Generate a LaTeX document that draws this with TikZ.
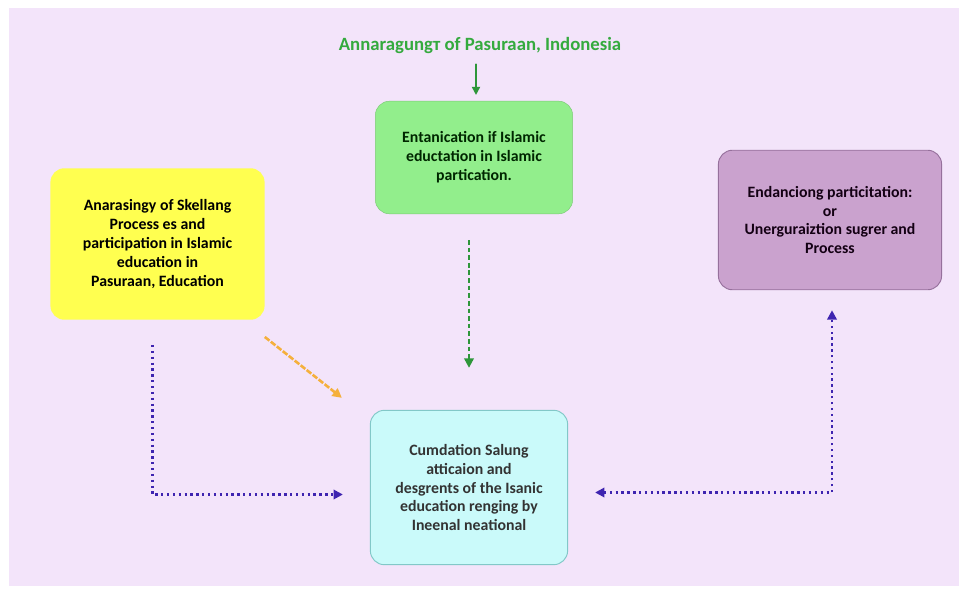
\documentclass[tikz,border=0pt]{standalone}
\usepackage{fontspec}
\setmainfont{Carlito}
\usetikzlibrary{arrows.meta,calc}

\definecolor{bglilac}{RGB}{243,228,250}
\definecolor{titlegreen}{RGB}{52,170,62}
\definecolor{arrowgreen}{RGB}{46,150,58}
\definecolor{boxgreen}{RGB}{146,238,140}
\definecolor{boxyellow}{RGB}{255,255,80}
\definecolor{boxmauve}{RGB}{202,162,206}
\definecolor{edgemauve}{RGB}{150,112,156}
\definecolor{boxcyan}{RGB}{202,250,250}
\definecolor{edgecyan}{RGB}{130,200,200}
\definecolor{arroworange}{RGB}{245,176,60}
\definecolor{arrowviolet}{RGB}{62,36,176}

\begin{document}
\begin{tikzpicture}[x=0.03cm,y=-0.03cm,line cap=round,line join=round,
  box/.style={rounded corners=12pt,align=center,inner sep=0pt,
    font=\bfseries\fontsize{13.5}{16.2}\selectfont},
  dots/.style={arrowviolet,line width=2pt,line cap=butt,dash pattern=on 2pt off 3pt},
  >={Triangle[length=8pt,width=8pt]}]
  % 背景
  \useasboundingbox (0,0) rectangle (967,594);
  \fill[white] (0,0) rectangle (967,594);
  \fill[bglilac] (9,8) rectangle (959,586);
  % 标题与四个方框
  \node[font=\bfseries\fontsize{16}{19}\selectfont,text=titlegreen] (title) at (480,46) {Annaragungт of Pasuraan, Indonesia};
  \node[box,fill=boxgreen,draw=boxgreen!85!black,line width=0.4pt,minimum width=168.4pt,minimum height=96.1pt,text=black!85!green] (green) at (474,157.5)
    {Entanication if Islamic\\eductation in Islamic\\partication.};
  \node[box,fill=boxyellow,minimum width=182.8pt,minimum height=129.3pt] (yellow) at (157.5,244)
    {Anarasingy of Skellang\\Process es and\\participation in Islamic\\education in\\Pasuraan, Education};
  \node[box,fill=boxmauve,draw=edgemauve,line width=0.8pt,minimum width=190.5pt,minimum height=119.1pt,text=black!85!violet] (mauve) at (830,220)
    {Endanciong particitation:\\or\\Unerguraiztion sugrer and\\Process};
  \node[box,fill=boxcyan,draw=edgecyan,line width=0.8pt,minimum width=168.4pt,minimum height=131.8pt,text=black!80] (cyan) at (469,487.5)
    {Cumdation Salung\\atticaion and\\desgrents of the Isanic\\education renging by\\Ineenal neational};
  % 绿色箭头
  \draw[arrowgreen,line width=1.4pt,->,>={Triangle[length=7pt,width=7pt]}] (title.south) ++(-4,6) -- ($(green.north)+(2,-6)$);
  \draw[arrowgreen,line width=1.8pt,line cap=butt,dash pattern=on 4pt off 2.5pt,->] (cyan.north |- green.south) ++(0,26) -- ($(cyan.north)+(0,-42)$);
  % 橙色箭头
  \draw[arroworange,line width=2.2pt,line cap=butt,dash pattern=on 5pt off 1.5pt,->] ($(yellow.south east)+(0,17)$) -- ($(cyan.north west)+(-28,-12)$);
  % 紫色虚线箭头
  \draw[dots,->] ($(yellow.south)+(-5,25)$) |- ($(cyan.west)+(-27,7)$);
  \draw[dots,<->] ($(cyan.east)+(27,5)$) -| ($(mauve.south)+(2,20)$);
\end{tikzpicture}
\end{document}
